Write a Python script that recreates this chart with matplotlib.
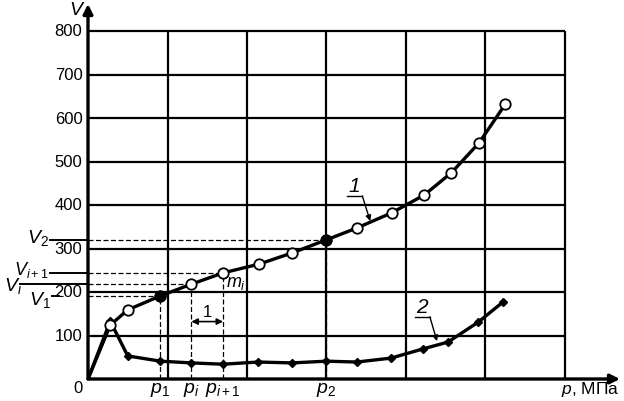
import matplotlib.pyplot as plt

plt.rcParams['font.family'] = ['Liberation Sans', 'DejaVu Sans']
plt.rcParams['mathtext.fontset'] = 'custom'
plt.rcParams['mathtext.rm'] = 'Liberation Sans'
plt.rcParams['mathtext.it'] = 'Liberation Sans:italic'

# curve 1 (open circles), starts at the origin
p1_x = [0, 0.28, 0.50, 0.91, 1.30, 1.70, 2.15, 2.57, 3.00, 3.38, 3.82, 4.23, 4.57, 4.92, 5.25]
v1_y = [0, 124, 159, 191, 218, 244, 264, 290, 320, 347, 382, 423, 474, 543, 632]
# curve 2 (small diamonds)
p2_x = [0, 0.28, 0.50, 0.91, 1.30, 1.70, 2.14, 2.57, 3.00, 3.38, 3.81, 4.21, 4.53, 4.91, 5.22]
v2_y = [0, 133, 53, 41, 37, 34, 39, 37, 41, 39, 48, 69, 85, 131, 177]

y_ticks = [100, 200, 300, 400, 500, 600, 700, 800]
x_grid = [1, 2, 3, 4, 5, 6]

# indices of the marked points: p1, p_i, p_i+1, p2
i_p1, i_pi, i_pi1, i_p2 = 3, 4, 5, 8
filled = [i_p1, i_p2]

xmax = 532 / 79.5
ymax = 375 / 0.435

fig = plt.figure(figsize=(6.24, 4.02), dpi=100)
ax = fig.add_axes([88 / 624, 22 / 402, 532 / 624, 375 / 402])
ax.set_xlim(0, xmax)
ax.set_ylim(0, ymax)
ax.axis('off')

# axes with arrows
for end in [(1, 0), (0, 1)]:
    ax.annotate('', xy=end, xytext=(0, 0), xycoords='axes fraction',
                arrowprops=dict(arrowstyle='-|>', lw=2.4, color='k', mutation_scale=14,
                                shrinkA=0, shrinkB=0))

# grid
for y in y_ticks:
    ax.plot([0, x_grid[-1]], [y, y], color='k', lw=1.6, solid_capstyle='butt')
    ax.text(-0.07, y, str(y), ha='right', va='center', fontsize=12)
for x in x_grid:
    ax.plot([x, x], [0, y_ticks[-1]], color='k', lw=1.6, solid_capstyle='butt')
ax.text(-0.07, -20, '0', ha='right', va='center', fontsize=12)
ax.text(-0.14, 850, '$V$', ha='center', va='center', fontsize=14)
ax.text(6.69, -22, '$p$, МПа', ha='right', va='center', fontsize=12.5)

# dashed guide lines
dash = dict(color='k', lw=0.9, ls=(0, (4, 2)))
for i in [i_p1, i_pi, i_pi1, i_p2]:
    ax.plot([0, p1_x[i]], [v1_y[i], v1_y[i]], **dash)
    ax.plot([p1_x[i], p1_x[i]], [0, v1_y[i]], **dash)

# left stubs and V labels
kw = dict(color='k', lw=1.4, clip_on=False)
ax.plot([-0.48, 0], [v1_y[i_p2]] * 2, **kw)
ax.plot([-0.48, 0], [v1_y[i_pi1]] * 2, **kw)
ax.plot([-0.86, 0], [v1_y[i_pi]] * 2, **kw)
ax.plot([-0.45, -0.37], [v1_y[i_p1]] * 2, **kw)
ax.text(-0.49, v1_y[i_p2] + 7, '$V_2$', ha='right', va='center', fontsize=14)
ax.text(-0.49, v1_y[i_pi1] + 8, '$V_{i+1}$', ha='right', va='center', fontsize=13)
ax.text(-1.06, v1_y[i_pi] - 3, '$V_i$', ha='left', va='center', fontsize=14)
ax.text(-0.47, v1_y[i_p1] - 6, '$V_1$', ha='right', va='center', fontsize=14)

# p labels
for i, lab in [(i_p1, '$p_1$'), (i_pi, '$p_i$'), (i_pi1, '$p_{i+1}$'), (i_p2, '$p_2$')]:
    ax.text(p1_x[i], -24, lab, ha='center', va='center', fontsize=14)
ax.text(p1_x[i_pi1] + 0.03, v1_y[i_pi1] - 22, '$m_i$', ha='left', va='center', fontsize=13)

# step arrow "1"
ax.annotate('', xy=(p1_x[i_pi1], 132), xytext=(p1_x[i_pi], 132),
            arrowprops=dict(arrowstyle='<|-|>', lw=1.2, color='k', mutation_scale=9,
                            shrinkA=0, shrinkB=0))
ax.text((p1_x[i_pi] + p1_x[i_pi1]) / 2, 156, '1', ha='center', va='center', fontsize=12)

# curves
ax.plot(p2_x, v2_y, color='k', lw=2.4, marker='D', markersize=4.5,
        markevery=list(range(1, len(p2_x))), zorder=4)
ax.plot(p1_x, v1_y, color='k', lw=2.4, marker='o', markersize=7.5,
        markerfacecolor='white', markeredgecolor='k', markeredgewidth=1.3,
        markevery=list(range(1, len(p1_x))), zorder=5)
ax.plot([p1_x[i] for i in filled], [v1_y[i] for i in filled], 'o', color='k',
        markersize=7.5, zorder=6)

# curve labels with leaders
ax.text(3.35, 445, '1', ha='center', va='center', fontsize=15, style='italic')
ax.plot([3.26, 3.45], [421, 421], color='k', lw=1)
ax.annotate('', xy=(3.55, 363), xytext=(3.45, 421),
            arrowprops=dict(arrowstyle='-|>', lw=1, color='k', mutation_scale=8,
                            shrinkA=0, shrinkB=0))
ax.text(4.2, 166, '2', ha='center', va='center', fontsize=15, style='italic')
ax.plot([4.11, 4.30], [143, 143], color='k', lw=1)
ax.annotate('', xy=(4.39, 87), xytext=(4.30, 143),
            arrowprops=dict(arrowstyle='-|>', lw=1, color='k', mutation_scale=8,
                            shrinkA=0, shrinkB=0))

fig.savefig('out.png', dpi=100)
